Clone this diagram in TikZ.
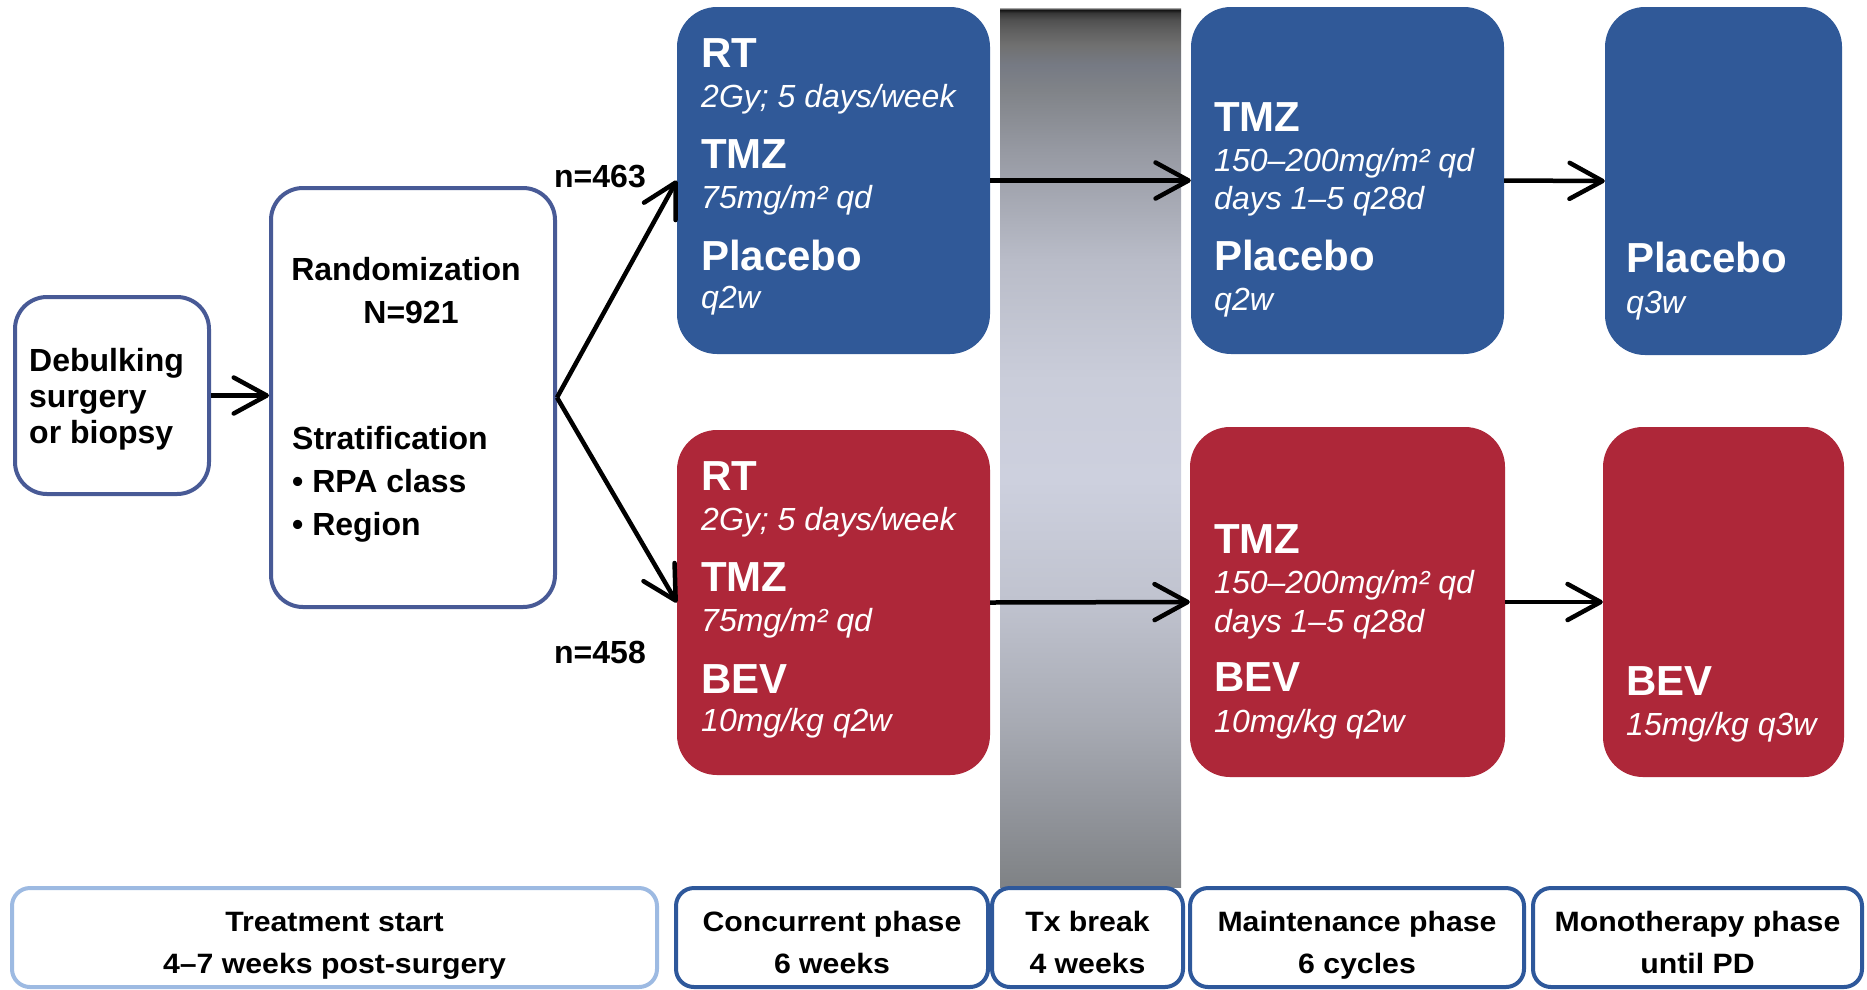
\documentclass[tikz,border=0pt]{standalone}
\usepackage{fontspec}
\setmainfont{Liberation Sans}
\newfontfamily\widefont[FakeStretch=1.08]{Liberation Sans}
\usetikzlibrary{arrows.meta}
\definecolor{bluefill}{RGB}{48,89,152}
\definecolor{redfill}{RGB}{174,39,57}
\definecolor{edgeblue}{RGB}{72,90,150}
\definecolor{phaseblue}{RGB}{46,88,155}
\definecolor{lightblue}{RGB}{157,186,226}
% gradient stops of the treatment-break bar
\definecolor{gA}{RGB}{127,130,133}
\definecolor{gB}{RGB}{148,151,158}
\definecolor{gC}{RGB}{168,171,180}
\definecolor{gD}{RGB}{192,195,207}
\definecolor{gE}{RGB}{205,208,222}
\definecolor{gF}{RGB}{202,205,218}
\definecolor{gG}{RGB}{185,188,200}
\definecolor{gH}{RGB}{150,153,162}
\definecolor{gI}{RGB}{128,131,136}
\definecolor{gJ}{RGB}{118,122,132}
\definecolor{gK}{RGB}{112,112,112}
\definecolor{gL}{RGB}{95,95,95}
\definecolor{gM}{RGB}{80,80,80}
\definecolor{gN}{RGB}{55,55,55}
\definecolor{gO}{RGB}{20,20,20}
\definecolor{gP}{RGB}{170,170,170}
\pgfdeclareverticalshading{txbar}{100bp}{color(0bp)=(gA); color(25bp)=(gA);
  color(29.95bp)=(gB); color(34.5bp)=(gC); color(41.33bp)=(gD);
  color(48.15bp)=(gE); color(53.84bp)=(gF); color(60.67bp)=(gG);
  color(66.92bp)=(gH); color(70.34bp)=(gI); color(71.76bp)=(gJ);
  color(72.9bp)=(gK); color(73.75bp)=(gL); color(74.32bp)=(gM);
  color(74.72bp)=(gN); color(74.89bp)=(gO); color(75bp)=(gP); color(100bp)=(gP)}
\tikzset{
  arm/.style={draw=none, fill=#1, rounded corners=40pt, inner sep=0pt},
  whitebox/.style={draw=edgeblue, line width=4pt, fill=white, rounded corners=32pt},
  phasebox/.style={draw=#1, line width=4pt, fill=white, rounded corners=18pt,
    inner sep=0pt, minimum height=99pt},
  phtext/.style={inner sep=0pt, align=center,
    font=\widefont\bfseries\fontsize{28}{42}\selectfont},
  hd/.style={anchor=base west, text=white, inner sep=0pt,
    font=\bfseries\fontsize{42}{48}\selectfont},
  sub/.style={anchor=base west, text=white, inner sep=0pt,
    font=\itshape\fontsize{32}{38}\selectfont},
  lbl/.style={inner sep=0pt, font=\bfseries\fontsize{32}{36}\selectfont},
  arr/.style={line width=4.5pt, -{Straight Barb[length=33pt,width=36pt,round]}},
}
\begin{document}
\begin{tikzpicture}[x=1pt,y=1pt]
\useasboundingbox (0,0) rectangle (1867,-989);
\fill[white] (0,0) rectangle (1867,-989);

% treatment break bar
\shade[shading=txbar] (1000,-8) rectangle (1181,-887);

% left white boxes
\node[whitebox, minimum width=194pt, minimum height=197pt] (deb) at (112,-395.5) {};
\node[lbl, align=left, anchor=west] (debt) at ([xshift=16pt,yshift=-4pt]deb.west) {Debulking\\surgery\\or biopsy};
\node[whitebox, minimum width=284pt, minimum height=419pt] (rand) at (413,-397.5) {};
\node[lbl, anchor=base] (randt) at (406,-280) {Randomization};
\node[lbl, anchor=base] (randn) at (411,-323) {N=921};
\node[lbl, anchor=base west] (strat) at (292,-449) {Stratification};
\node[lbl, anchor=base west] (rpa) at (292,-492) {• RPA class};
\node[lbl, anchor=base west] (reg) at (292,-535) {• Region};

% arm boxes
\node[arm=bluefill, minimum width=313pt, minimum height=347pt] (c1) at (833.5,-180.5) {};
\node[arm=bluefill, minimum width=313pt, minimum height=347pt] (m1) at (1347.5,-180.5) {};
\node[arm=bluefill, minimum width=237pt, minimum height=348pt] (p1) at (1723.5,-181) {};
\node[arm=redfill, minimum width=313pt, minimum height=345pt] (c2) at (833.5,-602.5) {};
\node[arm=redfill, minimum width=315pt, minimum height=350pt] (m2) at (1347.5,-602) {};
\node[arm=redfill, minimum width=241pt, minimum height=350pt] (p2) at (1723.5,-602) {};

% concurrent, placebo arm
\node[hd] (c1a) at (701,-67) {RT};
\node[sub] (c1b) at (701,-107) {2Gy; 5 days/week};
\node[hd] (c1c) at (701,-168) {TMZ};
\node[sub] (c1d) at (701,-208) {75mg/m² qd};
\node[hd] (c1e) at (701,-270) {Placebo};
\node[sub] (c1f) at (701,-308) {q2w};
% concurrent, BEV arm
\node[hd] (c2a) at (701,-490) {RT};
\node[sub] (c2b) at (701,-530) {2Gy; 5 days/week};
\node[hd] (c2c) at (701,-591) {TMZ};
\node[sub] (c2d) at (701,-631) {75mg/m² qd};
\node[hd] (c2e) at (701,-693) {BEV};
\node[sub] (c2f) at (701,-731) {10mg/kg q2w};
% maintenance, placebo arm
\node[hd] (m1a) at (1214,-131) {TMZ};
\node[sub] (m1b) at (1214,-171) {150–200mg/m² qd};
\node[sub] (m1c) at (1214,-209) {days 1–5 q28d};
\node[hd] (m1d) at (1214,-270) {Placebo};
\node[sub] (m1e) at (1214,-310) {q2w};
% maintenance, BEV arm
\node[hd] (m2a) at (1214,-553) {TMZ};
\node[sub] (m2b) at (1214,-593) {150–200mg/m² qd};
\node[sub] (m2c) at (1214,-632) {days 1–5 q28d};
\node[hd] (m2d) at (1214,-691) {BEV};
\node[sub] (m2e) at (1214,-732) {10mg/kg q2w};
% monotherapy
\node[hd] (p1a) at (1626,-272) {Placebo};
\node[sub] (p1b) at (1626,-313) {q3w};
\node[hd] (p2a) at (1626,-695) {BEV};
\node[sub] (p2b) at (1626,-735) {15mg/kg q3w};

% n labels
\node[lbl, anchor=base] (n1) at (600,-187) {n=463};
\node[lbl, anchor=base] (n2) at (600,-663) {n=458};

% connectors
\draw[arr] (deb.east) -- (deb.east -| rand.west);
\draw[arr] (rand.east) -- (c1.west);
\draw[arr] (rand.east) -- (c2.west);
\draw[arr] (c1.east) -- (m1.west);
\draw[arr] (m1.east) -- (p1.west);
\draw[arr] (c2.east) -- (m2.west);
\draw[arr] (m2.east) -- (p2.west);

% phase boxes
\node[phasebox=lightblue, minimum width=645pt] (ph1) at (334.5,-937.5) {};
\node[phasebox=phaseblue, minimum width=312pt] (ph2) at (832,-937.5) {};
\node[phasebox=phaseblue, minimum width=191pt] (ph3) at (1087.5,-937.5) {};
\node[phasebox=phaseblue, minimum width=334pt] (ph4) at (1357,-937.5) {};
\node[phasebox=phaseblue, minimum width=329pt] (ph5) at (1697.5,-937.5) {};
\node[phtext] (ph1t) at ([yshift=-7pt]ph1.center) {\strut Treatment start\\\strut 4–7 weeks post-surgery};
\node[phtext] (ph2t) at ([yshift=-7pt]ph2.center) {\strut Concurrent phase\\\strut 6 weeks};
\node[phtext] (ph3t) at ([yshift=-7pt]ph3.center) {\strut Tx break\\\strut 4 weeks};
\node[phtext] (ph4t) at ([yshift=-7pt]ph4.center) {\strut Maintenance phase\\\strut 6 cycles};
\node[phtext] (ph5t) at ([yshift=-7pt]ph5.center) {\strut Monotherapy phase\\\strut until PD};
\end{tikzpicture}
\end{document}
